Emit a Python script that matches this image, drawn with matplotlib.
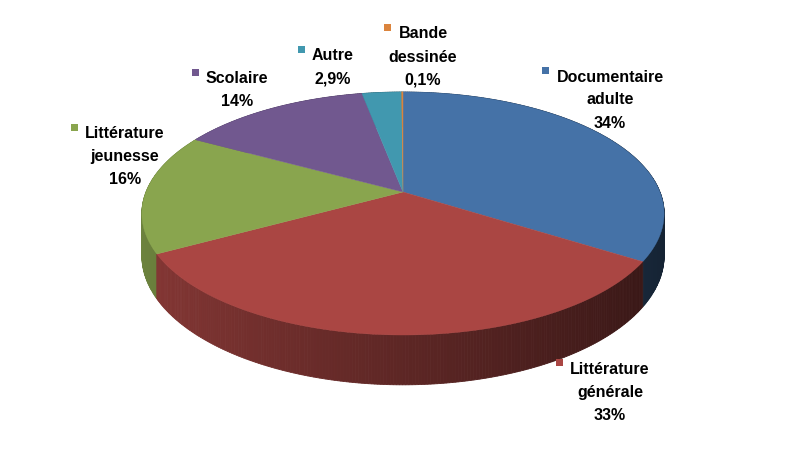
import numpy as np
import matplotlib
matplotlib.use("Agg")
import matplotlib.pyplot as plt
from matplotlib.patches import Polygon, Rectangle
from matplotlib.colors import to_rgb

categories = ["Documentaire adulte", "Littérature générale", "Littérature jeunesse",
              "Scolaire", "Autre", "Bande dessinée"]
values = [34, 33, 16, 14, 2.9, 0.1]
labels = ["Documentaire\nadulte\n34%", "Littérature\ngénérale\n33%", "Littérature\njeunesse\n16%",
          "Scolaire\n14%", "Autre\n2,9%", "Bande\ndessinée\n0,1%"]
colors = ["#4572A7", "#AA4643", "#89A54E", "#71588F", "#4198AF", "#DB843D"]

# perspective projection parameters (pixels)
cx, cy0 = 403, 192
D, H, R = 5.65, 665.0, 1452.0
depth0 = 41.0
label_pos = [(610, 100), (610, 392), (125, 157), (237, 90), (333, 67), (423, 57)]
line_h = 23

fig = plt.figure(figsize=(8, 4.54), dpi=100)
ax = fig.add_axes([0, 0, 1, 1])
ax.set_xlim(0, 800); ax.set_ylim(454, 0); ax.axis("off")

def pt(a, bottom=False):
    X, Z = np.cos(a), np.sin(a)
    x = cx + R*X/(D+Z)
    y = cy0 - H*Z/(D+Z)
    if bottom:
        y = y + depth0*D/(D+Z)
    return x, y

total = sum(values)
angles = []
start = np.pi/2
for v in values:
    end = start - 2*np.pi*v/total
    angles.append((start, end))
    start = end

# side walls, drawn back to front
segs = []
for (a0, a1), c in zip(angles, colors):
    base = np.array(to_rgb(c))
    ts = np.linspace(a0, a1, max(2, int(abs(a1-a0)*100)))
    for t0, t1 in zip(ts[:-1], ts[1:]):
        tm = (t0+t1)/2
        segs.append((np.sin(tm), t0, t1, tm, base))
segs.sort(key=lambda s: -s[0])
for _, t0, t1, tm, base in segs:
    f = 0.80 - 0.50*(np.cos(tm)+1)/2
    x0, y0 = pt(t0); x1, y1 = pt(t1)
    x0b, y0b = pt(t0, True); x1b, y1b = pt(t1, True)
    col = np.clip(base*f, 0, 1)
    ax.add_patch(Polygon([(x0, y0), (x1, y1), (x1b, y1b), (x0b, y0b)], closed=True,
                         fc=col, ec=col, lw=0.6))

# top faces
for (a0, a1), c in zip(angles, colors):
    ts = np.linspace(a0, a1, max(3, int(abs(a1-a0)*80)))
    xs, ys = pt(ts)
    poly = [(cx, cy0)] + list(zip(xs, ys))
    ax.add_patch(Polygon(poly, closed=True, fc=c, ec=c, lw=0.3))

renderer = fig.canvas.get_renderer()
for (x, y), lab, c in zip(label_pos, labels, colors):
    lines = lab.split("\n")
    n = len(lines)
    first_t = None
    for i, ln in enumerate(lines):
        yy = y + (i - (n-1)/2)*line_h
        t = ax.text(x, yy, ln, ha="center", va="center", fontsize=11.5, fontweight="bold",
                    family="Liberation Sans")
        if i == 0:
            first_t = t
            y_first = yy
    bb = first_t.get_window_extent(renderer)
    left = bb.x0  # pixels, x same in data since xlim 0..800 over 800px
    ax.add_patch(Rectangle((left - 14, y_first - 10), 7, 7, fc=c, ec="none"))

fig.savefig("out.png", dpi=100)
